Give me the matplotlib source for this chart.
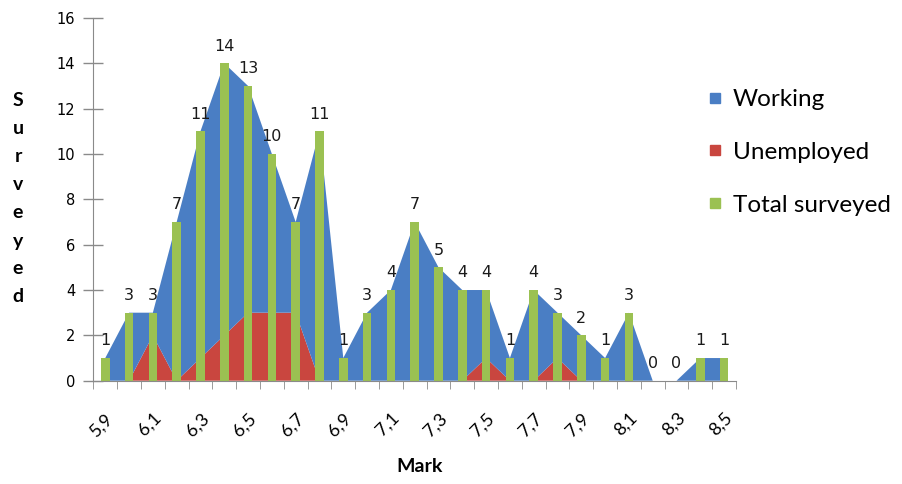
import matplotlib.pyplot as plt
from matplotlib.lines import Line2D
import numpy as np

# marks 5,9 .. 8,5
marks = ['5,9', '6,0', '6,1', '6,2', '6,3', '6,4', '6,5', '6,6', '6,7', '6,8',
         '6,9', '7,0', '7,1', '7,2', '7,3', '7,4', '7,5', '7,6', '7,7', '7,8',
         '7,9', '8,0', '8,1', '8,2', '8,3', '8,4', '8,5']
total = [1, 3, 3, 7, 11, 14, 13, 10, 7, 11,
         1, 3, 4, 7, 5, 4, 4, 1, 4, 3,
         2, 1, 3, 0, 0, 1, 1]
unemployed = [0, 0, 2, 0, 1, 2, 3, 3, 3, 0,
              0, 0, 0, 0, 0, 0, 1, 0, 0, 1,
              0, 0, 0, 0, 0, 0, 0]
working = [t - u for t, u in zip(total, unemployed)]

blue = '#4a7ec4'
red = '#c9463f'
green = '#9bc152'
axis_col = '#8a8a8a'

fig = plt.figure(figsize=(9.02, 4.84), dpi=100)
ax = fig.add_axes([0.1035, 0.2134, 0.7125, 0.7496])

x = np.arange(len(marks))
ax.stackplot(x, unemployed, working, colors=[red, blue], linewidth=0, zorder=1)
ax.bar(x, total, width=0.36, color=green, zorder=2)

for xi, v in zip(x, total):
    ax.annotate(str(v), (xi, v), xytext=(0, 7), textcoords='offset points',
                ha='center', va='bottom', fontsize=11.5, color='#1a1a1a')

ax.set_xlim(-0.5, len(marks) - 0.5)
ax.set_ylim(0, 16)
ax.set_yticks(range(0, 17, 2))
ax.tick_params(axis='y', direction='inout', length=14, width=1, color=axis_col,
               labelsize=10.5, pad=6)

ax.set_xticks(x[::2])
ax.set_xticklabels(marks[::2], rotation=45, ha='right', rotation_mode='anchor',
                   fontsize=13, family='Lato')
ax.set_xticks(np.arange(-0.5, len(marks), 1), minor=True)
ax.tick_params(axis='x', which='major', length=0, pad=21)
ax.tick_params(axis='x', which='minor', direction='out', length=6, color=axis_col)
for lbl in ax.get_xticklabels():
    lbl.set_x(lbl.get_position()[0])

for s in ['top', 'right']:
    ax.spines[s].set_visible(False)
for s in ['left', 'bottom']:
    ax.spines[s].set_color(axis_col)

# vertical y label, one letter per line
for i, ch in enumerate('Surveyed'):
    fig.text(18 / 902, 1 - (101 + i * 28) / 484, ch, ha='center', va='center',
             fontsize=14, fontweight='bold', family='Lato')

fig.text(420 / 902, 1 - 467 / 484, 'Mark', ha='center', va='center',
         fontsize=14, fontweight='bold', family='Lato')

handles = [Line2D([], [], ls='', marker='s', markersize=7, color=c)
           for c in [blue, red, green]]
fig.legend(handles, ['Working', 'Unemployed', 'Total surveyed'],
           loc='center left', bbox_to_anchor=(0.783, 0.685), frameon=False,
           borderpad=0, borderaxespad=0, handlelength=0.7, handletextpad=0.4,
           labelspacing=1.3, prop={'family': 'Lato', 'size': 17.5})

fig.savefig('out.png', dpi=100)
